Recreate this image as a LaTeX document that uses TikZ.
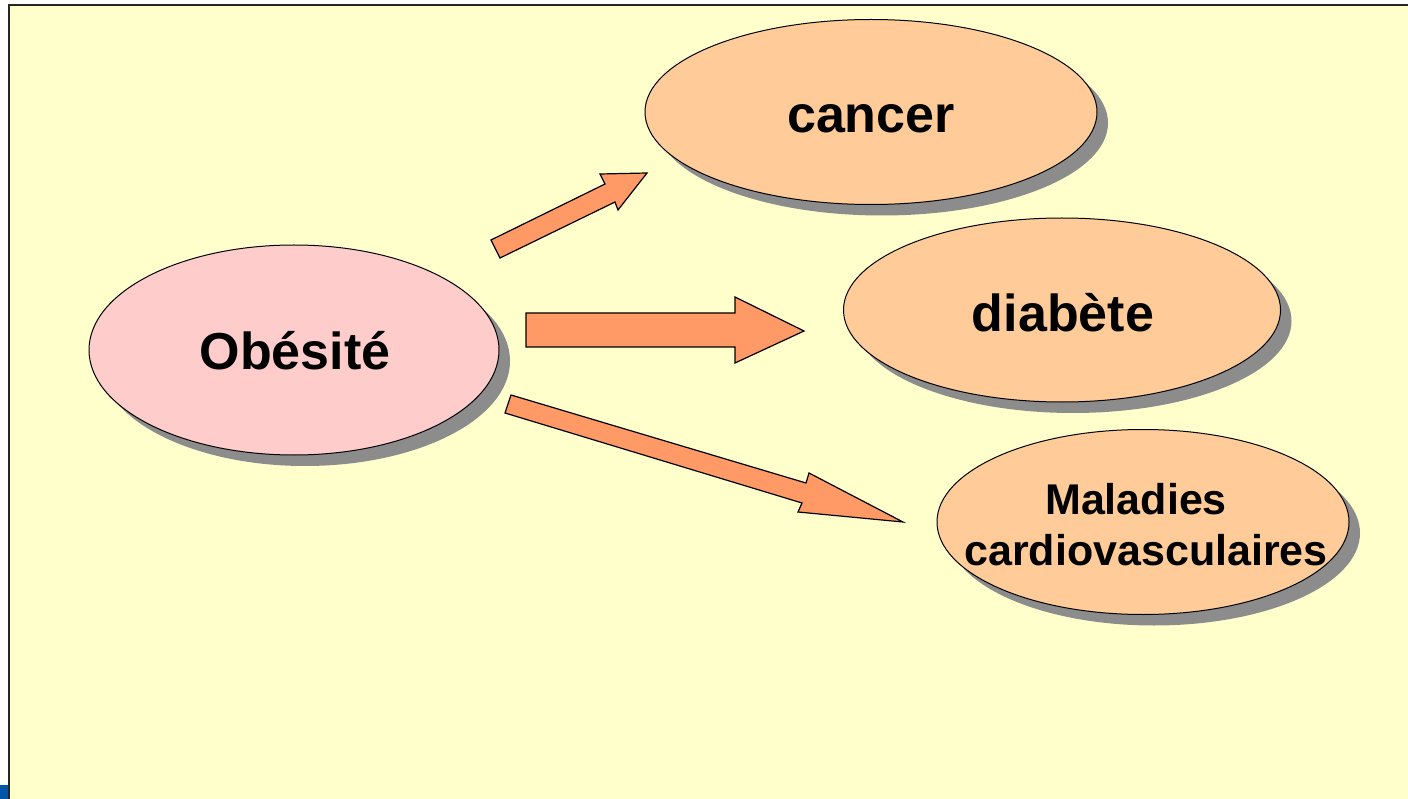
\documentclass[tikz,border=0pt]{standalone}
\usepackage{fontspec}
\setmainfont{Liberation Sans}
\usetikzlibrary{shapes.geometric,shadows}
\definecolor{bgyellow}{HTML}{FFFFCC}
\definecolor{pinkfill}{HTML}{FFCCCC}
\definecolor{peach}{HTML}{FFCC99}
\definecolor{arrowfill}{HTML}{FF9966}
\definecolor{shadowgray}{HTML}{8C8C8C}
\definecolor{cornerblue}{HTML}{0056A8}
\begin{document}
\begin{tikzpicture}[x=1pt,y=-1pt,
  blob/.style={ellipse, draw=black, line width=1pt, inner sep=0pt,
    drop shadow={shadow xshift=11pt, shadow yshift=-11pt, fill=shadowgray, opacity=1}},
  lbl/.style={font=\bfseries\fontsize{52}{60}\selectfont, anchor=base, inner sep=0pt},
  lblsmall/.style={font=\bfseries\fontsize{43}{50}\selectfont, anchor=base, inner sep=0pt},
  blockarrow/.style={draw=black, line width=1.2pt, fill=arrowfill, line join=miter}]
\useasboundingbox (0,0) rectangle (1408,799);
\fill[white] (0,0) rectangle (1408,799);
\fill[bgyellow] (9,5) rectangle (1408,799);
\draw[line width=2pt, black!85] (9,799) -- (9,5) -- (1408,5);
\fill[cornerblue] (0,785) rectangle (8,799);

\node[blob, fill=pinkfill, minimum width=410pt, minimum height=210pt] (obesite) at (294,350) {};
\node[blob, fill=peach, minimum width=452pt, minimum height=185pt] (cancer) at (871,112) {};
\node[blob, fill=peach, minimum width=437pt, minimum height=184pt] (diabete) at (1062,310) {};
\node[blob, fill=peach, minimum width=412pt, minimum height=185pt] (maladies) at (1143,522) {};

\node[lbl] (tobesite) at (295,370) {Obésité};
\node[lbl] (tcancer) at (871,133) {cancer};
\node[lbl] (tdiabete) at (1063,332) {diabète};
\node[lblsmall] (tmal1) at (1136,514) {Maladies};
\node[lblsmall] (tmal2) at (1146,565) {cardiovasculaires};

\draw[blockarrow] (491,240) -- (605,184) -- (600,174) -- (647,173) -- (618,210) -- (615,202) -- (500,258) -- cycle;
\draw[blockarrow] (526,313) -- (735,313) -- (735,297) -- (804,331) -- (735,363) -- (735,347) -- (526,347) -- cycle;
\draw[blockarrow] (511,395) -- (806,483) -- (809,473) -- (903,522) -- (798,512) -- (802,503) -- (505,413) -- cycle;
\end{tikzpicture}
\end{document}
